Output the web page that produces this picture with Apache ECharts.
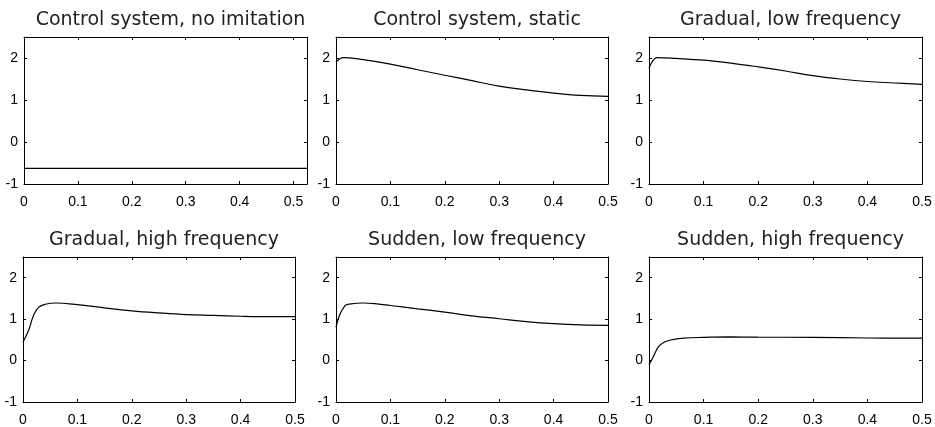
<!DOCTYPE html>
<html>
<head>
<meta charset="utf-8">
<script src="https://cdn.jsdelivr.net/npm/echarts@6/dist/echarts.min.js"></script>
<style>
html, body { margin: 0; padding: 0; background: #fff; }
#chart { width: 935px; height: 427px; }
</style>
</head>
<body>
<div id="chart"></div>
<script>
var titles = [
    "Control system, no imitation",
    "Control system, static",
    "Gradual, low frequency",
    "Gradual, high frequency",
    "Sudden, low frequency",
    "Sudden, high frequency"
];

// panel data
var noImitX = [0, 0.525];
var noImitY = [-0.63, -0.63];

var staticX = [0, 0.0135, 0.05, 0.1, 0.15, 0.2, 0.25, 0.3, 0.35, 0.4, 0.45, 0.5];
var staticY = [1.9, 2.01, 1.96, 1.855, 1.72, 1.59, 1.46, 1.33, 1.24, 1.165, 1.11, 1.085];

var gradLowX = [0, 0.015, 0.05, 0.1, 0.15, 0.2, 0.25, 0.3, 0.35, 0.4, 0.45, 0.5];
var gradLowY = [1.75, 2.01, 1.99, 1.95, 1.88, 1.79, 1.69, 1.58, 1.5, 1.44, 1.405, 1.37];

var gradHighX = [0, 0.01, 0.02, 0.029, 0.041, 0.06, 0.1, 0.15, 0.2, 0.25, 0.3, 0.35, 0.4, 0.45, 0.5];
var gradHighY = [0.45, 0.72, 1.11, 1.29, 1.36, 1.39, 1.35, 1.27, 1.2, 1.15, 1.11, 1.09, 1.07, 1.06, 1.06];

var sudLowX = [0, 0.007, 0.017, 0.023, 0.05, 0.075, 0.1, 0.15, 0.2, 0.25, 0.3, 0.35, 0.4, 0.45, 0.5];
var sudLowY = [0.8, 1.11, 1.33, 1.36, 1.39, 1.37, 1.33, 1.25, 1.17, 1.08, 1.01, 0.94, 0.89, 0.86, 0.85];

var sudHighX = [0, 0.007, 0.017, 0.026, 0.038, 0.063, 0.1, 0.15, 0.2, 0.3, 0.4, 0.5];
var sudHighY = [-0.1, 0.07, 0.33, 0.43, 0.49, 0.54, 0.56, 0.57, 0.565, 0.56, 0.545, 0.54];

var panelsX = [noImitX, staticX, gradLowX, gradHighX, sudLowX, sudHighX];
var panelsY = [noImitY, staticY, gradLowY, gradHighY, sudLowY, sudHighY];
var xMax = [0.525, 0.5, 0.5, 0.5, 0.5, 0.5];

// box positions [left, top, width, height]
var boxes = [
    [24, 37, 283, 147],
    [336, 37, 272, 147],
    [649, 37, 273, 147],
    [23, 257, 272, 148],
    [336, 257, 272, 148],
    [649, 257, 273, 148]
];

function pairs(xs, ys) {
    var out = [];
    for (var i = 0; i < xs.length; i++) {
        out.push([xs[i], ys[i]]);
    }
    return out;
}

var option = {
    backgroundColor: "#fff",
    animation: false,
    title: [],
    grid: [],
    xAxis: [],
    yAxis: [],
    series: []
};

var lineStyle = { color: "#000", width: 1 };
var labelStyle = { color: "#000", fontFamily: "Liberation Sans", fontSize: 14 };

for (var i = 0; i < 6; i++) {
    var b = boxes[i];
    option.title.push({
        text: titles[i],
        left: b[0] + b[2] / 2,
        top: b[1] - 31,
        textAlign: "center",
        textStyle: { fontFamily: "DejaVu Sans", fontWeight: "normal", fontSize: 19, color: "#222" }
    });
    option.grid.push({ left: b[0], top: b[1], width: b[2], height: b[3] });

    var xa = {
        type: "value", gridIndex: i, min: 0, max: xMax[i], interval: 0.1,
        axisLine: { show: true, onZero: false, lineStyle: lineStyle },
        axisTick: { show: true, inside: true, length: 3, lineStyle: lineStyle },
        splitLine: { show: false }
    };
    option.xAxis.push(Object.assign({}, xa, {
        position: "bottom",
        axisLabel: Object.assign({ margin: 11, showMaxLabel: xMax[i] == 0.5 }, labelStyle)
    }));
    option.xAxis.push(Object.assign({}, xa, { position: "top", axisLabel: { show: false } }));

    var ya = {
        type: "value", gridIndex: i, min: -1, max: 2.5, interval: 1,
        axisLine: { show: true, onZero: false, lineStyle: lineStyle },
        axisTick: { show: true, inside: true, length: 3, lineStyle: lineStyle },
        splitLine: { show: false }
    };
    option.yAxis.push(Object.assign({}, ya, {
        position: "left",
        axisLabel: Object.assign({ margin: 6, showMaxLabel: false }, labelStyle)
    }));
    option.yAxis.push(Object.assign({}, ya, { position: "right", axisLabel: { show: false } }));

    option.series.push({
        type: "line",
        xAxisIndex: 2 * i,
        yAxisIndex: 2 * i,
        data: pairs(panelsX[i], panelsY[i]),
        showSymbol: false,
        smooth: 0.4,
        lineStyle: { color: "#000", width: 1.2 }
    });
}

var e = echarts.init(document.getElementById("chart"));
e.setOption(option);
</script>
</body>
</html>
